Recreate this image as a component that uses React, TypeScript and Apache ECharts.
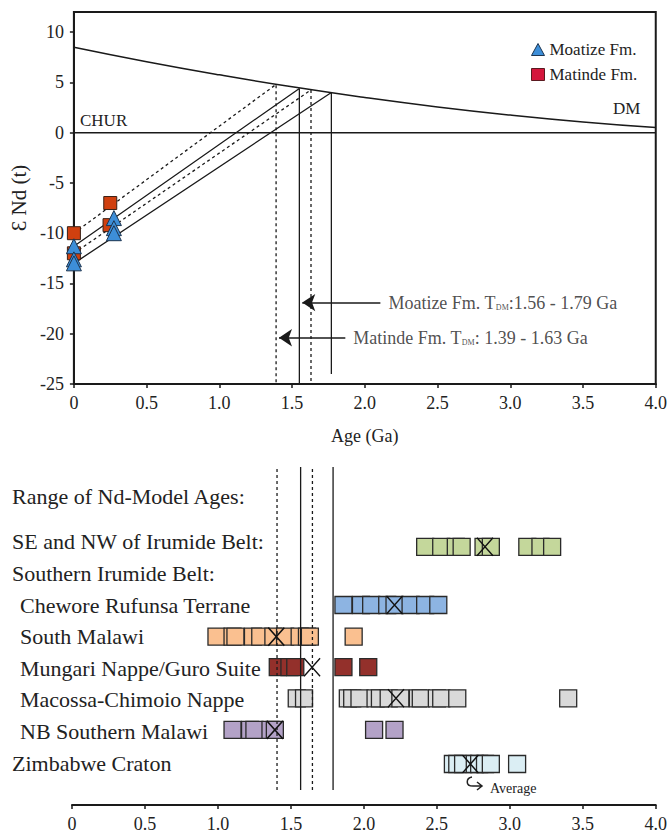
import React, { useEffect, useRef } from "react";
import * as echarts from "echarts";

// ---------- Top panel data ----------
const DM_AGE = [0, 0.5, 1.0, 1.5, 2.0, 2.5, 3.0, 3.5, 4.0];
const DM_EPS = [8.5, 7.06, 5.75, 4.56, 3.5, 2.56, 1.75, 1.06, 0.5];
const CHUR_AGE = [0, 4];
const CHUR_EPS = [0, 0];

const MATINDE_AGE = [0, 0, 0.25, 0.245];
const MATINDE_EPS = [-10, -12, -7, -9.2];
const MOATIZE_AGE = [0, 0, 0, 0.275, 0.275, 0.275];
const MOATIZE_EPS = [-11.3, -12.6, -13, -8.5, -9.5, -10];

// model-age lines: start eNd(0), T_DM, eNd at T_DM (on DM), lower end of drop line
const ISO_START = [-10, -11.3, -12, -13];
const ISO_TDM = [1.39, 1.55, 1.63, 1.77];
const ISO_EPS_DM = [4.8, 4.4, 4.25, 4.0];
const ISO_DROP_END = [-25, -25, -25, -24];
const ISO_DASHED = [true, false, true, false];

const ARROW_TAIL_AGE = [2.107, 1.866];
const ARROW_HEAD_AGE = [1.57, 1.41];
const ARROW_EPS = [-16.9, -20.4];
const ARROW_TEXT = [
  "{a|Moatize Fm. T}{s|DM}{a|:1.56 - 1.79 Ga}",
  "{a|Matinde Fm. T}{s|DM}{a|: 1.39 - 1.63 Ga}",
];

const X_TICK_LABEL = (v: number) => (v === 0 ? "0" : v.toFixed(1));

// ---------- Bottom panel data ----------
const ROWS = [
  "SE and NW of Irumide Belt:",
  "Southern Irumide Belt:",
  "Chewore Rufunsa Terrane",
  "South Malawi",
  "Mungari Nappe/Guro Suite",
  "Macossa-Chimoio Nappe",
  "NB Southern Malawi",
  "Zimbabwe Craton",
];
const INDENTED_ROWS = [
  "Chewore Rufunsa Terrane",
  "South Malawi",
  "Mungari Nappe/Guro Suite",
  "Macossa-Chimoio Nappe",
  "NB Southern Malawi",
];

const SE_NW_AGES = [2.42, 2.53, 2.63, 2.67, 2.82, 2.87, 3.12, 3.21, 3.29];
const CHEWORE_AGES = [1.86, 1.98, 2.05, 2.16, 2.21, 2.32, 2.42, 2.51];
const SOUTH_MALAWI_AGES = [0.99, 1.1, 1.12, 1.24, 1.29, 1.38, 1.46, 1.56, 1.61, 1.63, 1.93];
const MUNGARI_AGES = [1.41, 1.49, 1.53, 1.86, 2.03];
const MACOSSA_AGES = [1.54, 1.59, 1.89, 1.92, 1.97, 2.08, 2.11, 2.17, 2.25, 2.37, 2.39, 2.5, 2.53, 2.64, 3.4];
const NB_MALAWI_AGES = [1.1, 1.22, 1.25, 1.36, 1.39, 2.07, 2.21];
const ZIMBABWE_AGES = [2.61, 2.64, 2.68, 2.76, 2.79, 2.83, 2.87, 3.05];

const BOX_ROWS = [
  ROWS[0], ROWS[2], ROWS[3], ROWS[4], ROWS[5], ROWS[6], ROWS[7],
];
const BOX_AGES = [
  SE_NW_AGES, CHEWORE_AGES, SOUTH_MALAWI_AGES, MUNGARI_AGES, MACOSSA_AGES, NB_MALAWI_AGES, ZIMBABWE_AGES,
];
const AVERAGE_AGES = [2.83, 2.21, 1.4, 1.645, 2.22, 1.39, 2.73];

const REF_AGES = [1.39, 1.55, 1.63, 1.77];
const REF_DASHED = [true, false, true, false];

// ---------- Styles ----------
const SERIF = "'Liberation Serif', 'Times New Roman', serif";
const INK = "#1a1a1a";
const BOX_COLORS = ["#c4d79b", "#8db4e2", "#fac090", "#93302b", "#d9d9d9", "#b3a2c7", "#dbeef4"];
const BOX_OFFSET_Y = [5, 0, 0, -1, -1.5, -1.5, 1];

const HOOK_D = "M7,0 C1,1 0,9 8,9 L17,9 M12,5 L17,9 L12,13";
echarts.graphic.registerShape("hookArrow", echarts.graphic.extendPath(HOOK_D, {}) as any);

function buildOption(): any {
  const axisLine = { show: true, onZero: false, lineStyle: { color: INK, width: 2 } };
  const axisTick = { show: true, length: 4, lineStyle: { color: INK, width: 1.5 } };
  const tickLabel = { fontSize: 18, fontFamily: SERIF, color: "#222" };

  const series: any[] = [];

  series.push({
    type: "line", xAxisIndex: 0, yAxisIndex: 0, smooth: true, symbol: "none", z: 3,
    data: DM_AGE.map((a, i) => [a, DM_EPS[i]]),
    lineStyle: { color: INK, width: 1.5 },
  });
  series.push({
    type: "line", xAxisIndex: 0, yAxisIndex: 0, symbol: "none", z: 3,
    data: CHUR_AGE.map((a, i) => [a, CHUR_EPS[i]]),
    lineStyle: { color: INK, width: 1.5 },
  });
  ISO_TDM.forEach((t, i) => {
    series.push({
      type: "line", xAxisIndex: 0, yAxisIndex: 0, symbol: "none", z: 3,
      data: [[0, ISO_START[i]], [t, ISO_EPS_DM[i]], [t, ISO_DROP_END[i]]],
      lineStyle: { color: INK, width: 1.3, type: ISO_DASHED[i] ? [3, 3] : "solid" },
    });
  });
  series.push({
    name: "Matinde Fm.", type: "scatter", xAxisIndex: 0, yAxisIndex: 0, z: 5,
    symbol: "rect", symbolSize: 13,
    data: MATINDE_AGE.map((a, i) => [a, MATINDE_EPS[i]]),
    itemStyle: { color: "#d0400f", borderColor: "#3a2015", borderWidth: 1, opacity: 1 },
  });
  series.push({
    name: "Moatize Fm.", type: "scatter", xAxisIndex: 0, yAxisIndex: 0, z: 6,
    symbol: "triangle", symbolSize: 15,
    data: MOATIZE_AGE.map((a, i) => [a, MOATIZE_EPS[i]]),
    itemStyle: { color: "#3d8ed8", borderColor: "#1d3550", borderWidth: 1, opacity: 1 },
  });
  series.push({
    type: "scatter", xAxisIndex: 0, yAxisIndex: 0, symbolSize: 0, z: 7, silent: true,
    data: ARROW_TAIL_AGE.map((a, i) => ({
      value: [a, ARROW_EPS[i]],
      label: { formatter: ARROW_TEXT[i] },
    })),
    label: {
      show: true, position: "right", distance: 8,
      rich: {
        a: { fontSize: 18, fontFamily: SERIF, color: "#222", lineHeight: 18, verticalAlign: "top" },
        s: { fontSize: 8, fontFamily: SERIF, color: "#222", lineHeight: 8, verticalAlign: "bottom", padding: [11, 0, 0, 0] },
      },
    },
    markLine: {
      silent: true, symbol: ["none", "arrow"], symbolSize: 13,
      lineStyle: { color: INK, width: 1.5, type: "solid" },
      itemStyle: { color: INK },
      label: { show: false },
      data: ARROW_TAIL_AGE.map((a, i) => [
        { coord: [a, ARROW_EPS[i]] },
        { coord: [ARROW_HEAD_AGE[i], ARROW_EPS[i]] },
      ]),
    },
  });

  // bottom panel boxes
  BOX_ROWS.forEach((row, r) => {
    series.push({
      type: "scatter", xAxisIndex: 1, yAxisIndex: 1, z: 4,
      symbol: "rect", symbolSize: 17, symbolOffset: [0, BOX_OFFSET_Y[r]],
      data: BOX_AGES[r].map((a) => [a, row]),
      itemStyle: { color: BOX_COLORS[r], borderColor: "#2a2a2a", borderWidth: 1.3, opacity: 1 },
    });
  });
  series.push({
    type: "scatter", xAxisIndex: 1, yAxisIndex: 1, z: 6,
    symbol: "path://M0,0L10,10M10,0L0,10", symbolSize: [16, 18],
    data: BOX_ROWS.map((row, r) => ({ value: [AVERAGE_AGES[r], row], symbolOffset: [0, BOX_OFFSET_Y[r]] })),
    itemStyle: { color: "rgba(0,0,0,0)", borderColor: "#111", borderWidth: 1.5, opacity: 1 },
  });
  REF_AGES.forEach((t, i) => {
    series.push({
      type: "line", xAxisIndex: 2, yAxisIndex: 2, symbol: "none", z: 8,
      data: [[t, 0], [t, 1]],
      lineStyle: { color: INK, width: 1.3, type: REF_DASHED[i] ? [3, 3] : "solid" },
    });
  });

  return {
    animation: false,
    backgroundColor: "#ffffff",
    textStyle: { fontFamily: SERIF },
    legend: {
      orient: "vertical", left: 526, top: 36, itemWidth: 13, itemHeight: 12, itemGap: 8,
      textStyle: { fontSize: 17, fontFamily: SERIF, color: "#222", lineHeight: 17 },
      data: [
        { name: "Moatize Fm.", icon: "triangle", itemStyle: { color: "#3d8ed8", borderColor: "#1d3550", borderWidth: 1 } },
        { name: "Matinde Fm.", icon: "rect", itemStyle: { color: "#d4163c", borderColor: "#5a1a20", borderWidth: 1 } },
      ],
    },
    grid: [
      { left: 72, right: 8, top: 12, bottom: 453, show: true, borderColor: INK, borderWidth: 2 },
      { left: 72, right: 8, top: 526, bottom: 58.2 },
      { left: 72, right: 8, top: 467, bottom: 47 },
    ],
    xAxis: [
      {
        gridIndex: 0, type: "value", min: 0, max: 4, interval: 0.5,
        name: "Age (Ga)", nameLocation: "middle", nameGap: 43,
        nameTextStyle: { fontSize: 18, fontFamily: SERIF, color: "#222" },
        axisLine, axisTick,
        axisLabel: { ...tickLabel, margin: 10, formatter: X_TICK_LABEL },
        splitLine: { show: false },
      },
      {
        gridIndex: 1, type: "value", min: 0, max: 4, interval: 0.5, offset: 26.2,
        axisLine, axisTick,
        axisLabel: { ...tickLabel, margin: 10, formatter: X_TICK_LABEL },
        splitLine: { show: false },
      },
      { gridIndex: 2, type: "value", min: 0, max: 4, show: false },
    ],
    yAxis: [
      {
        gridIndex: 0, type: "value", min: -25, max: 12, interval: 5,
        name: "\u0190 Nd (t)", nameLocation: "middle", nameGap: 44, nameRotate: 90,
        nameTextStyle: { fontSize: 21, fontFamily: SERIF, color: "#222" },
        axisLine, axisTick,
        axisLabel: { ...tickLabel, margin: 10, showMaxLabel: false },
        splitLine: { show: false },
      },
      {
        gridIndex: 1, type: "category", data: ROWS, inverse: true,
        axisLine: { show: false }, axisTick: { show: false }, splitLine: { show: false },
        axisLabel: {
          interval: 0, align: "left", margin: 60,
          formatter: (v: string) => (INDENTED_ROWS.includes(v) ? `{i|${v}}` : `{h|${v}}`),
          rich: {
            h: { fontSize: 22, fontFamily: SERIF, color: "#222" },
            i: { fontSize: 22, fontFamily: SERIF, color: "#222", padding: [0, 0, 0, 8] },
          },
        },
      },
      { gridIndex: 2, type: "value", min: 0, max: 1, show: false },
    ],
    graphic: [
      { type: "text", x: 80, y: 120, style: { text: "CHUR", font: `17px ${SERIF}`, fill: "#222", verticalAlign: "middle" } },
      { type: "text", x: 613, y: 108, style: { text: "DM", font: `17px ${SERIF}`, fill: "#222", verticalAlign: "middle" } },
      { type: "text", x: 12, y: 496, style: { text: "Range of Nd-Model Ages:", font: `22px ${SERIF}`, fill: "#222", verticalAlign: "middle" } },
      { type: "hookArrow", x: 465, y: 777, shape: {}, style: { fill: "none", stroke: "#222", lineWidth: 1.5 } },
      { type: "text", x: 490, y: 788, style: { text: "Average", font: `14px ${SERIF}`, fill: "#222", verticalAlign: "middle" } },
    ],
    series,
  };
}

export default function App() {
  const ref = useRef<HTMLDivElement>(null);
  useEffect(() => {
    if (!ref.current) return;
    const chart = echarts.init(ref.current, undefined, { renderer: "svg" });
    chart.setOption(buildOption());
    return () => chart.dispose();
  }, []);
  return (
    <div
      ref={ref}
      style={{ position: "fixed", left: 0, top: 0, width: 670, height: 837, background: "#fff" }}
    />
  );
}
